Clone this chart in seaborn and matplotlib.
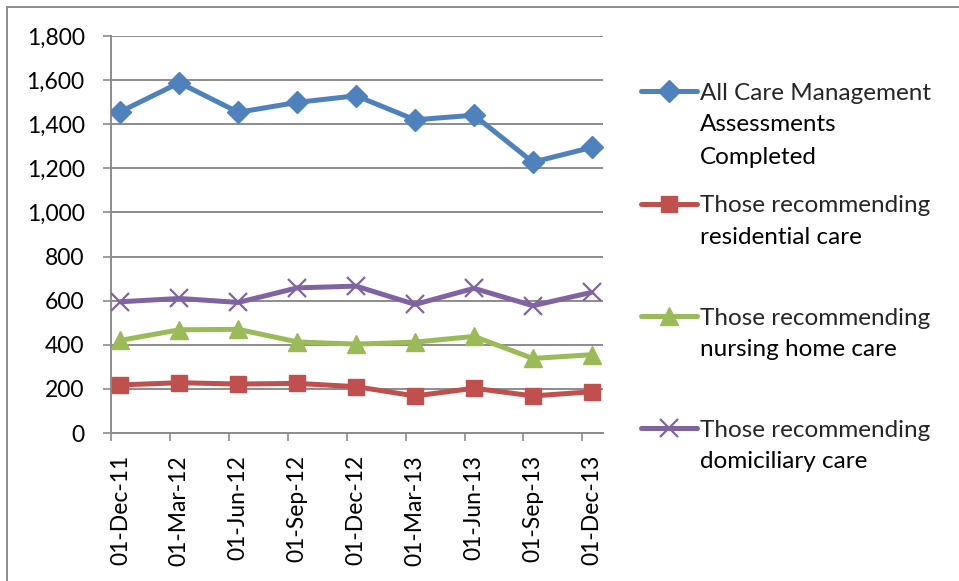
import numpy as np
import pandas as pd
import matplotlib
matplotlib.use("Agg")
import matplotlib.pyplot as plt
from matplotlib.lines import Line2D
from matplotlib.ticker import FuncFormatter, FixedLocator
import seaborn as sns

# ---- data ----
dates = ["01-Dec-11", "01-Mar-12", "01-Jun-12", "01-Sep-12", "01-Dec-12",
         "01-Mar-13", "01-Jun-13", "01-Sep-13", "01-Dec-13"]
all_assess = [1457, 1588, 1454, 1499, 1529, 1420, 1441, 1228, 1295]
residential = [218, 228, 222, 225, 210, 168, 203, 168, 187]
nursing = [420, 468, 470, 413, 403, 412, 438, 338, 355]
domiciliary = [595, 610, 592, 658, 666, 583, 656, 577, 638]
labels = ["All Care Management\nAssessments\nCompleted",
          "Those recommending\nresidential care",
          "Those recommending\nnursing home care",
          "Those recommending\ndomiciliary care"]
y_ticks = list(range(0, 1801, 200))

sns.set_theme(style="white")
FONT = ["Lato", "DejaVu Sans"]
plt.rcParams["font.family"] = FONT

W, H = 959, 581
fig = plt.figure(figsize=(W / 100, H / 100), dpi=100)
ax = fig.add_axes([111 / W, 1 - 433 / H, (603 - 111) / W, (433 - 36) / H])

x = np.arange(len(dates))
series = [all_assess, residential, nursing, domiciliary]
colors = ["#4F81BD", "#C0504D", "#9BBB59", "#8064A2"]
markers = ["D", "s", "^", "x"]
msizes = [11, 12, 13, 13]
mews = [1, 1, 1, 1.6]

for vals, c, m, ms, mw in zip(series, colors, markers, msizes, mews):
    sns.lineplot(x=x, y=vals, ax=ax, color=c, marker=m, markersize=ms,
                 markeredgewidth=mw, markeredgecolor=c, linewidth=3.6,
                 legend=False, zorder=3)

ax.set_xlim(-0.16, 8.19)
ax.set_ylim(0, 1800)
ax.set_yticks(y_ticks)
ax.yaxis.set_major_formatter(FuncFormatter(lambda v, p: f"{int(v):,}"))
ax.set_xticks(x)
ax.set_xticklabels(dates, rotation=90)
ax.xaxis.set_minor_locator(FixedLocator(x - 0.16))
ax.grid(axis="y", color="#8C8C8C", linewidth=1.4)
ax.grid(axis="x", visible=False)
for s in ["top", "right"]:
    ax.spines[s].set_visible(False)
for s in ["left", "bottom"]:
    ax.spines[s].set_color("#8C8C8C")
    ax.spines[s].set_linewidth(1.4)
ax.tick_params(axis="y", which="major", length=6, width=1.2, color="#8C8C8C",
               pad=13, labelsize=16.5, labelcolor="black", left=True)
ax.tick_params(axis="x", which="major", length=0, pad=16, labelsize=16.5,
               labelcolor="black", bottom=True)
ax.tick_params(axis="x", which="minor", length=6, width=1.2, color="#8C8C8C",
               bottom=True)
ax.set_xlabel("")
ax.set_ylabel("")

# ---- legend (one entry per block, continuation lines as text) ----
fs = 17.5
fs_px = fs * 100 / 72
line_gap = 32
first_y = [93, 205.7, 318, 430]
for lab, c, m, ms, mw, yy in zip(labels, colors, markers, msizes, mews, first_y):
    lines = lab.split("\n")
    h = Line2D([], [], color=c, marker=m, markersize=ms, markeredgewidth=mw,
               markeredgecolor=c, linewidth=3.6)
    fig.legend([h], [lines[0]], loc="center left",
               bbox_to_anchor=(641 / W, 1 - yy / H), frameon=False,
               fontsize=fs, handlelength=56 / fs_px, handletextpad=3 / fs_px,
               borderpad=0, borderaxespad=0)
    for k, extra in enumerate(lines[1:], start=1):
        fig.text(700 / W, 1 - (yy + k * line_gap) / H, extra, fontsize=fs,
                 va="center", ha="left", color="black")

# ---- outer chart frame ----
fig.add_artist(Line2D([7 / W, 1], [1 - 7 / H, 1 - 7 / H], color="#8C8C8C",
                      linewidth=1.4, transform=fig.transFigure))
fig.add_artist(Line2D([7 / W, 7 / W], [0, 1 - 7 / H], color="#8C8C8C",
                      linewidth=1.4, transform=fig.transFigure))

fig.savefig("out.png", dpi=100)
